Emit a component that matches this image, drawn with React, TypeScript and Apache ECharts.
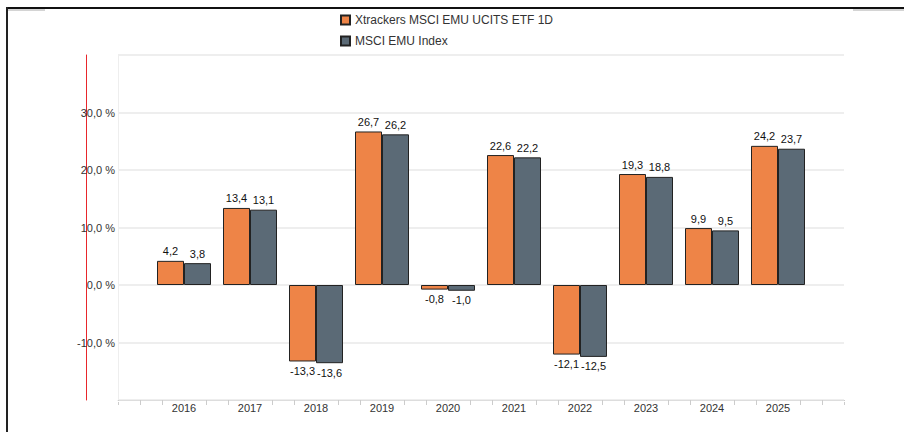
import React, { useEffect, useRef } from "react";
import * as echarts from "echarts";

const years = [2016, 2017, 2018, 2019, 2020, 2021, 2022, 2023, 2024, 2025];
const etfValues = [4.2, 13.4, -13.3, 26.7, -0.8, 22.6, -12.1, 19.3, 9.9, 24.2];
const indexValues = [3.8, 13.1, -13.6, 26.2, -1.0, 22.2, -12.5, 18.8, 9.5, 23.7];
const seriesNames = ["Xtrackers MSCI EMU UCITS ETF 1D", "MSCI EMU Index"];
const seriesColors = ["#EE8447", "#5B6A76"];
const yTickLabels = [-10, 0, 10, 20, 30];

const fmt = (v: number) => v.toFixed(1).replace(".", ",");

function buildData(values: number[]) {
  return values.map((v, i) => ({
    value: [years[i], v],
    label: { position: v < 0 ? "bottom" : "top" },
  }));
}

export default function App() {
  const ref = useRef<HTMLDivElement>(null);
  useEffect(() => {
    if (!ref.current) return;
    const chart = echarts.init(ref.current, null, { renderer: "svg" });
    const font = "Liberation Sans, Arial, Helvetica, sans-serif";
    const mkSeries = (idx: number, values: number[]) => ({
      name: seriesNames[idx],
      type: "bar",
      barWidth: 27,
      barGap: "0%",
      data: buildData(values),
      itemStyle: { color: seriesColors[idx], borderColor: "#222", borderWidth: 1 },
      label: {
        show: true,
        distance: 4,
        fontSize: 11,
        fontFamily: font,
        color: "#111",
        formatter: (p: any) => fmt(p.value[1]),
      },
    });
    chart.setOption({
      animation: false,
      backgroundColor: "#fff",
      textStyle: { fontFamily: font },
      legend: {
        orient: "vertical",
        left: 335,
        top: 9,
        itemWidth: 9,
        itemHeight: 9,
        itemGap: 9,
        icon: "rect",
        textStyle: { fontSize: 12, color: "#333", fontFamily: font },
        data: seriesNames,
      },
      grid: { left: 118, right: 60, top: 55, bottom: 32 },
      xAxis: {
        type: "value",
        min: 2015,
        max: 2026,
        interval: 1,
        splitLine: { show: false },
        axisLine: { show: true, onZero: false, lineStyle: { color: "#dddddd", width: 1 } },
        axisTick: { show: true, length: 5, lineStyle: { color: "#cccccc" } },
        minorTick: { show: true, splitNumber: 3, length: 5, lineStyle: { color: "#cccccc" } },
        axisLabel: {
          fontSize: 11,
          color: "#333",
          fontFamily: font,
          margin: 1,
          backgroundColor: "#fff",
          padding: [1, 3, 0, 3],
          formatter: (v: number) => (years.includes(v) ? String(v) : ""),
        },
      },
      yAxis: [
        {
          type: "value",
          min: -20,
          max: 40,
          interval: 10,
          axisLine: { show: true, lineStyle: { color: "#eeeeee" } },
          axisTick: { show: false },
          splitLine: { show: true, lineStyle: { color: "#e8e8e8", width: 1.5 } },
          axisLabel: {
            fontSize: 11,
            color: "#333",
            fontFamily: font,
            margin: 3,
            formatter: (v: number) => (yTickLabels.includes(v) ? fmt(v) + " %" : ""),
          },
        },
        {
          type: "value",
          position: "left",
          offset: 32,
          min: -20,
          max: 40,
          interval: 10,
          axisLine: { show: true, lineStyle: { color: "#e8262b", width: 1 } },
          axisTick: { show: false },
          splitLine: { show: false },
          axisLabel: { show: false },
        },
      ],
      graphic: [
        { type: "line", shape: { x1: 8, y1: 10, x2: 45, y2: 10 }, style: { stroke: "#aaa", lineWidth: 1 } },
        { type: "line", shape: { x1: 853, y1: 10, x2: 904, y2: 10 }, style: { stroke: "#aaa", lineWidth: 1 } },
        { type: "line", shape: { x1: 6, y1: 8, x2: 904, y2: 8 }, style: { stroke: "#111", lineWidth: 2 } },
        { type: "line", shape: { x1: 7, y1: 7, x2: 7, y2: 432 }, style: { stroke: "#222", lineWidth: 2 } },
      ],
      series: [mkSeries(0, etfValues), mkSeries(1, indexValues)],
    });
    return () => chart.dispose();
  }, []);
  return (
    <div
      ref={ref}
      style={{ position: "fixed", left: 0, top: 0, width: 904, height: 432 }}
    />
  );
}
